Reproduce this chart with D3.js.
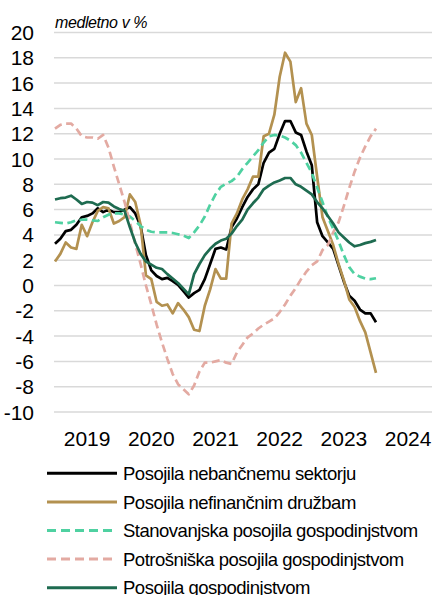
<!DOCTYPE html>
<html>
<head>
<meta charset="utf-8">
<script src="https://cdn.jsdelivr.net/npm/d3@7"></script>
<style>
  html, body { margin: 0; padding: 0; background: #ffffff; }
  svg { display: block; }
</style>
</head>
<body>
<svg id="chart" width="432" height="595"></svg>
<script>
// ---- data (monthly, Jan 2019 .. Jan 2024) ----
const years = ["2019", "2020", "2021", "2022", "2023", "2024"];
const yTicks = [20, 18, 16, 14, 12, 10, 8, 6, 4, 2, 0, -2, -4, -6, -8, -10];

const seriesNames = [
  "Posojila nebančnemu sektorju",
  "Posojila nefinančnim družbam",
  "Stanovanjska posojila gospodinjstvom",
  "Potrošniška posojila gospodinjstvom",
  "Posojila gospodinjstvom"
];

const nebancni = [3.3, 3.7, 4.3, 4.4, 4.8, 5.4, 5.5, 5.7, 6.1, 5.8, 6.0, 5.8, 5.8, 6.0, 6.2, 5.7,
  4.7, 2.4, 1.2, 0.75, 0.5, 0.6, 0.35, 0.05, -0.45, -0.95, -0.6, -0.35, 0.5, 1.7, 2.9, 3.0, 2.85,
  4.6, 5.3, 6.2, 7.0, 7.6, 8.0, 9.7, 10.5, 10.8, 12.0, 13.0, 13.0, 12.1, 11.9, 10.6, 9.5, 5.0,
  3.9, 3.4, 2.9, 1.6, 0.3, -0.8, -1.2, -1.9, -2.2, -2.2, -2.9];

const nefinancne = [1.9, 2.5, 3.4, 3.0, 2.9, 4.8, 3.9, 5.0, 5.9, 6.2, 6.1, 4.9, 5.1, 5.4, 7.2, 6.6,
  4.8, 0.8, 0.5, -1.3, -1.6, -1.5, -2.2, -1.4, -1.9, -2.5, -3.5, -3.6, -1.6, -0.3, 1.3, 0.55, 0.55,
  4.9, 5.7, 6.8, 7.6, 8.6, 8.6, 11.8, 12.0, 13.5, 16.5, 18.4, 17.7, 14.5, 15.6, 12.8, 11.9, 8.6,
  5.4, 4.3, 3.2, 1.7, 0.4, -1.1, -1.7, -2.8, -3.7, -5.3, -6.9];

const stanovanjska = [5.0, 4.95, 4.9, 5.0, 5.15, 5.2, 5.2, 5.15, 5.1, 5.4, 5.6, 5.7, 5.7, 5.6, 5.45, 5.1,
  4.7, 4.4, 4.25, 4.2, 4.2, 4.2, 4.15, 4.05, 3.95, 3.75, 4.2, 4.75, 5.45, 6.4, 7.2, 7.8, 8.05,
  8.25, 8.6, 9.2, 9.7, 10.2, 10.7, 11.3, 11.8, 11.9, 11.85, 11.7, 11.45, 11.1, 10.5, 9.7, 8.9, 7.75,
  6.6, 5.4, 4.5, 3.5, 2.4, 1.45, 0.9, 0.7, 0.55, 0.5, 0.57];

const potrosniska = [12.4, 12.7, 12.8, 12.8, 12.4, 11.8, 11.7, 11.7, 11.6, 11.9, 10.9, 9.4, 8.0, 6.6, 5.0, 3.3,
  1.7, 0.0, -1.5, -3.1, -4.5, -5.8, -7.0, -7.8, -8.2, -8.6, -7.9, -6.8, -6.1, -6.1, -6.0, -5.9, -6.1,
  -6.2, -5.3, -4.7, -4.1, -3.8, -3.4, -3.1, -2.85, -2.6, -2.1, -1.5, -0.8, -0.2, 0.5, 1.1, 1.6, 1.9,
  2.8, 3.2, 4.2, 5.0, 6.3, 7.7, 9.0, 10.1, 11.0, 11.8, 12.4];

const gospodinjstva = [6.8, 6.9, 6.95, 7.1, 6.8, 6.45, 6.6, 6.55, 6.35, 6.6, 6.55, 6.25, 6.05, 5.9, 4.6, 3.4,
  2.5, 1.9, 1.65, 1.4, 1.3, 0.9, 0.55, 0.2, -0.25, -0.7, 0.9, 1.7, 2.4, 2.9, 3.3, 3.55, 3.7,
  4.1, 4.7, 5.2, 6.0, 6.5, 6.95, 7.6, 7.9, 8.15, 8.3, 8.5, 8.5, 8.0, 7.8, 7.5, 7.2, 6.6,
  6.1, 5.5, 4.9, 4.2, 3.8, 3.4, 3.1, 3.2, 3.35, 3.45, 3.6];

const allSeries = [nebancni, nefinancne, stanovanjska, potrosniska, gospodinjstva];

// ---- styles ----
const colors = ["#000000", "#b39150", "#4fd1a1", "#e3aaa2", "#1e6b50"];
const dashes = [null, null, "8,4.5", "8,4.5", null];

const svg = d3.select("#chart");
const axisFont = "'Liberation Sans Narrow', 'Arial Narrow', 'Liberation Sans', Arial, sans-serif";
const textFont = "'Liberation Sans', Arial, sans-serif";

const x = d3.scaleLinear().domain([0, 72]).range([55, 55 + 72 * 5.35]);
const y = d3.scaleLinear().domain([-10, 20]).range([412, 32.5]);

// gridlines
svg.append("g").selectAll("line").data(yTicks).join("line")
  .attr("x1", 54).attr("x2", 440)
  .attr("y1", d => y(d)).attr("y2", d => y(d))
  .attr("stroke", "#d9d9d9").attr("stroke-width", 1.5);

// y tick labels
svg.append("g").selectAll("text").data(yTicks).join("text")
  .attr("x", 34).attr("y", d => y(d)).attr("dy", "0.36em")
  .attr("text-anchor", "end")
  .attr("font-family", axisFont).attr("font-size", 21)
  .attr("fill", "#000").text(d => d);

// x year labels (centred in each year)
svg.append("g").selectAll("text").data(years).join("text")
  .attr("x", (d, i) => x(i * 12 + 6)).attr("y", 446)
  .attr("text-anchor", "middle")
  .attr("font-family", axisFont).attr("font-size", 21)
  .attr("fill", "#000").text(d => d);

// subtitle
svg.append("text").attr("x", 55).attr("y", 28)
  .attr("font-family", textFont).attr("font-style", "italic").attr("font-size", 16)
  .attr("letter-spacing", -0.4)
  .attr("fill", "#000").text("medletno v %");

// lines
const line = d3.line().x((d, i) => x(i)).y(d => y(d)).curve(d3.curveLinear);
svg.append("g").selectAll("path").data(allSeries).join("path")
  .attr("d", d => line(d))
  .attr("fill", "none")
  .attr("stroke", (d, i) => colors[i])
  .attr("stroke-width", 2.7)
  .attr("stroke-linejoin", "round")
  .attr("stroke-dasharray", (d, i) => dashes[i]);

// legend
const lg = svg.append("g");
const legY = i => 473.3 + i * 28.6;
lg.selectAll("line").data(seriesNames).join("line")
  .attr("x1", 47).attr("x2", 117)
  .attr("y1", (d, i) => legY(i)).attr("y2", (d, i) => legY(i))
  .attr("stroke", (d, i) => colors[i])
  .attr("stroke-width", 3)
  .attr("stroke-dasharray", (d, i) => dashes[i] ? "9,5" : null);
lg.selectAll("text").data(seriesNames).join("text")
  .attr("x", 123).attr("y", (d, i) => legY(i) + 6.7)
  .attr("font-family", textFont).attr("font-size", 18.5)
  .attr("letter-spacing", -0.5)
  .attr("fill", "#000").text(d => d);
</script>
</body>
</html>
